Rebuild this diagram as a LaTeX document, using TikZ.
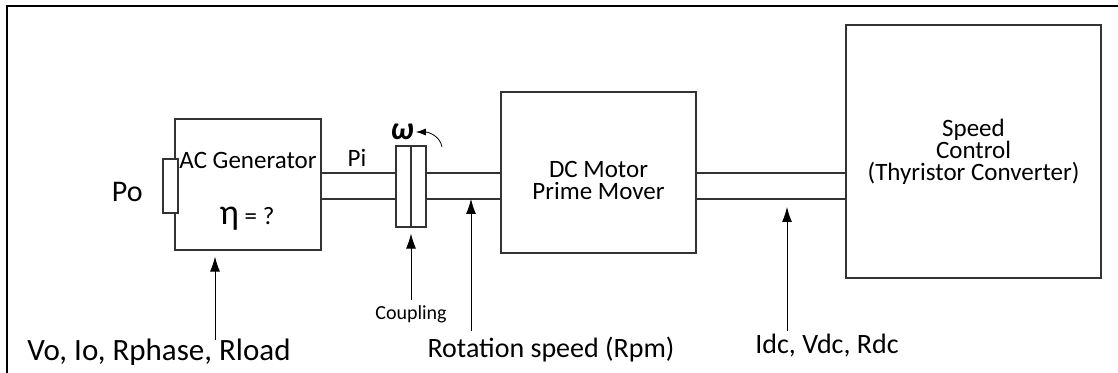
\documentclass[tikz,border=0pt]{standalone}
\usepackage{fontspec}
\setmainfont{Carlito}
\usetikzlibrary{arrows.meta}

\begin{document}
\begin{tikzpicture}[x=0.5pt, y=-0.5pt, >={Latex[length=7.5pt,width=5pt]},
  block/.style={draw=black!80, line width=0.65pt, inner sep=0pt, fill=white},
  shaft/.style={draw=black!80, line width=0.65pt},
  big/.style={font=\fontsize{14}{16}\selectfont, inner sep=0pt},
  mid/.style={font=\fontsize{12.5}{11}\selectfont, inner sep=0pt, align=center},
  small/.style={font=\fontsize{10}{12}\selectfont, inner sep=0pt}]
\useasboundingbox (0,0) rectangle (1118,373);
% frame
\draw[line width=1pt] (7,373) -- (7,6) -- (1118,6);

% shaft levels
\coordinate (up) at (0,173);
\coordinate (lo) at (0,199);

% AC generator
\node[block, minimum width=73pt, minimum height=65.5pt] (gen) at (248,184.5) {};
\node[block, minimum width=7.5pt, minimum height=27pt] (term) at (170.5,186) {};
\node[mid] (genname) at (248,160) {AC Generator};
\node[mid, anchor=base] (eta) at (247,225) {{\fontsize{18}{18}\selectfont η} = ?};
\node[big, font=\fontsize{15}{16}\selectfont, anchor=base east] (po) at (143,202) {Po};

% coupling
\node[block, minimum width=7.5pt, minimum height=40.5pt] (cplA) at (403.5,186.5) {};
\node[block, minimum width=7.5pt, minimum height=40.5pt] (cplB) at (418.5,186.5) {};
\node[small] (coup) at (411,314) {Coupling};
\node[font=\fontsize{16}{16}\selectfont\bfseries\itshape, inner sep=0pt] (omega) at (402,132) {ω};
\coordinate (spin) at (442,147);
\draw[->, >={Latex[length=5pt,width=3.5pt]}] (spin) to[out=100, in=0] ([xshift=1pt]omega.east);

% DC motor
\node[block, minimum width=97.5pt, minimum height=80.5pt] (motor) at (598.5,172.5) {};
\node[mid] (motorname) at (598.5,180) {DC Motor\\Prime Mover};

% speed control
\node[block, minimum width=127.5pt, minimum height=126.5pt] (ctrl) at (973.5,151.5) {};
\node[mid] (ctrlname) at (973.5,152) {Speed\\Control\\(Thyristor Converter)};

% shafts
\node[mid] (pi) at (357,158) {Pi};
\draw[shaft] (gen.east |- up) -- (cplA.west |- up);
\draw[shaft] (gen.east |- lo) -- (cplA.west |- lo);
\draw[shaft] (cplB.east |- up) -- (motor.west |- up);
\draw[shaft] (cplB.east |- lo) -- (motor.west |- lo);
\draw[shaft] (motor.east |- up) -- (ctrl.west |- up);
\draw[shaft] (motor.east |- lo) -- (ctrl.west |- lo);

% measured quantities
\node[big, font=\fontsize{15.5}{16}\selectfont] (vout) at (159,352) {Vo, Io, Rphase, Rload};
\node[big] (rpm) at (551,350) {Rotation speed (Rpm)};
\node[big] (idc) at (827,346) {Idc, Vdc, Rdc};
\coordinate (vin) at (215,340);
\coordinate (cin) at (411,300);
\coordinate (rin) at (471,331);
\coordinate (din) at (787,331);
\draw[->] (vin) -- ([yshift=-3pt]vin |- gen.south);
\draw[->] (cin) -- ([yshift=-3pt]cin |- cplA.south);
\draw[->] (rin) -- (rin |- lo);
\draw[->] (din) -- ([yshift=-4pt]din |- lo);
\end{tikzpicture}
\end{document}
